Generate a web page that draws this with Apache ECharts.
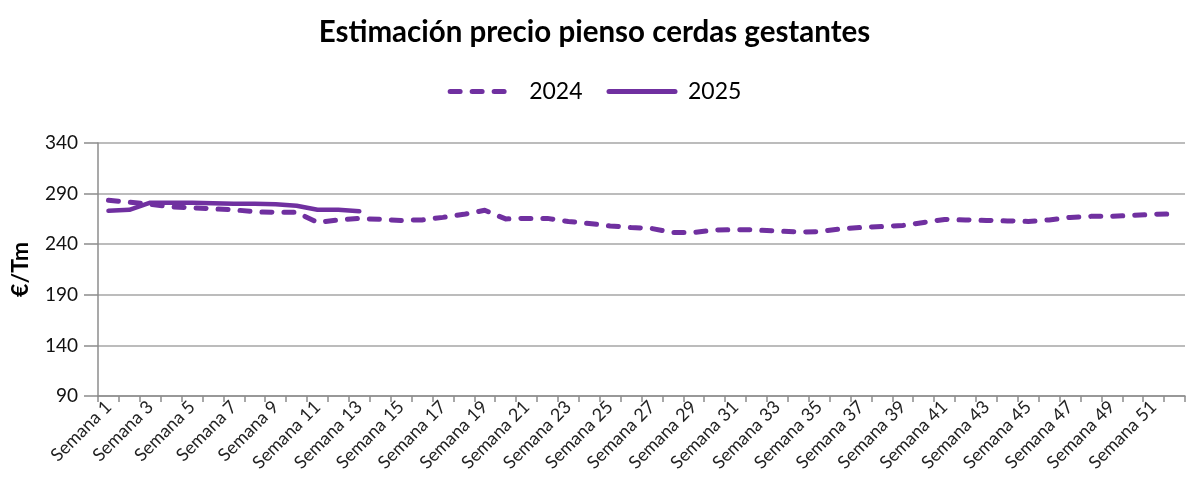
<!DOCTYPE html>
<html><head><meta charset="utf-8">
<script src="https://cdn.jsdelivr.net/npm/echarts@6/dist/echarts.min.js"></script>
<style>html,body{margin:0;padding:0;background:#fff}#c{width:1189px;height:491px}</style>
</head><body><div id="c"></div>
<script>
const weeks = Array.from({length: 52}, (_, i) => 'Semana ' + (i + 1));
const s2024 = [283.5, 281.5, 279.5, 277, 276, 275, 274, 272, 271.5, 271.5, 261.5, 264, 265.5, 264.5,
  263.5, 264, 266.5, 269.5, 273.5, 265, 265.5, 265.5, 262.5, 260.5, 258, 256.5, 255.5, 251.5, 251.5,
  254, 254.5, 254, 253, 252, 252.5, 255, 256.5, 257.5, 258.5, 261.5, 264.5, 264, 263.5, 263, 262.5,
  264, 266.5, 267.5, 267.5, 268.5, 269.5, 270];
const s2025 = [273, 274, 281, 281, 281, 280.5, 280, 280, 279.5, 278, 274, 274, 272.5];
const yTicks = {min: 90, max: 340, interval: 50};
const purple = '#7030A0';
const font = 'Lato, "Open Sans", sans-serif';
const chart = echarts.init(document.getElementById('c'));
chart.setOption({
  animation: false,
  title: {text: 'Estimación precio pienso cerdas gestantes', left: 'center', top: 12,
    textStyle: {fontFamily: font, fontSize: 29.5, fontWeight: 'bold', color: '#000'}},
  legend: {top: 75, left: 'center', itemWidth: 66, itemHeight: 14, itemGap: 24,
    itemStyle: {opacity: 0},
    lineStyle: {width: 5, cap: 'round'},
    textStyle: {fontFamily: font, fontSize: 23, color: '#000', padding: [0, 0, 0, 8]},
    data: ['2024', '2025']},
  grid: {left: 98, right: 4, top: 143, bottom: 95},
  xAxis: {type: 'category', data: weeks, boundaryGap: true,
    axisLine: {lineStyle: {color: '#8c8c8c', width: 1.5}},
    axisTick: {show: true, interval: 0, length: 6, lineStyle: {color: '#8c8c8c', width: 1.5}},
    axisLabel: {interval: 1, rotate: 45, fontFamily: font, fontSize: 18, color: '#222', margin: 8}},
  yAxis: {type: 'value', min: yTicks.min, max: yTicks.max, interval: yTicks.interval,
    name: '€/Tm', nameLocation: 'middle', nameGap: 66, nameRotate: 90,
    nameTextStyle: {fontFamily: font, fontSize: 23, fontWeight: 'bold', color: '#000'},
    axisLine: {show: true, lineStyle: {color: '#8c8c8c', width: 1.5}},
    axisTick: {show: true, length: 14, lineStyle: {color: '#8c8c8c', width: 1.5}},
    splitLine: {lineStyle: {color: '#a6a6a6', width: 1.5}},
    axisLabel: {fontFamily: font, fontSize: 19, color: '#111', margin: 20}},
  series: [
    {name: '2024', type: 'line', data: s2024, showSymbol: false, symbol: 'none',
      lineStyle: {color: purple, width: 5, type: [10, 12], cap: 'round', join: 'round'},
      itemStyle: {color: purple}},
    {name: '2025', type: 'line', data: s2025, showSymbol: false, symbol: 'none',
      lineStyle: {color: purple, width: 4.5, cap: 'round', join: 'round'},
      itemStyle: {color: purple}}
  ]
});
</script></body></html>
